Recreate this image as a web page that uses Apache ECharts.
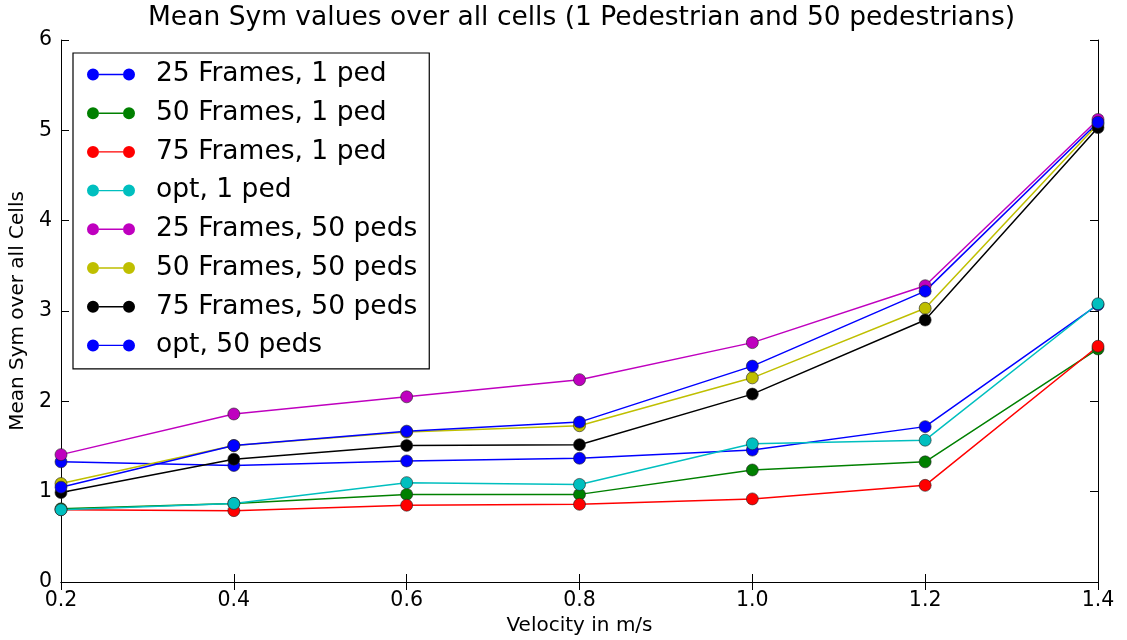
<!DOCTYPE html>
<html>
<head>
<meta charset="utf-8">
<script src="https://cdn.jsdelivr.net/npm/echarts@6/dist/echarts.min.js"></script>
<style>
  html, body { margin: 0; padding: 0; background: #fff; }
  #chartContainer { width: 1127px; height: 640px; }
</style>
</head>
<body>
<div id="chartContainer"></div>
<script>
// velocity in m/s
const velocities = ["0.2", "0.4", "0.6", "0.8", "1.0", "1.2", "1.4"];

// 1 pedestrian
const frames25Ped1 = [1.33, 1.29, 1.34, 1.37, 1.46, 1.72, 3.07];
const frames50Ped1 = [0.81, 0.87, 0.97, 0.97, 1.24, 1.33, 2.58];
const frames75Ped1 = [0.80, 0.79, 0.85, 0.86, 0.92, 1.07, 2.61];
const optPed1 = [0.80, 0.87, 1.10, 1.08, 1.53, 1.57, 3.08];

// 50 pedestrians
const frames25Ped50 = [1.41, 1.86, 2.05, 2.24, 2.65, 3.28, 5.12];
const frames50Ped50 = [1.09, 1.51, 1.66, 1.73, 2.26, 3.03, 5.07];
const frames75Ped50 = [0.99, 1.36, 1.51, 1.52, 2.08, 2.90, 5.03];
const optPed50 = [1.05, 1.51, 1.67, 1.77, 2.39, 3.22, 5.09];

const yTicks = [0, 1, 2, 3, 4, 5, 6];

const seriesDefs = [
  { name: "25 Frames, 1 ped", data: frames25Ped1, color: "#0000ff" },
  { name: "50 Frames, 1 ped", data: frames50Ped1, color: "#008000" },
  { name: "75 Frames, 1 ped", data: frames75Ped1, color: "#ff0000" },
  { name: "opt, 1 ped", data: optPed1, color: "#00bfbf" },
  { name: "25 Frames, 50 peds", data: frames25Ped50, color: "#bf00bf" },
  { name: "50 Frames, 50 peds", data: frames50Ped50, color: "#bfbf00" },
  { name: "75 Frames, 50 peds", data: frames75Ped50, color: "#000000" },
  { name: "opt, 50 peds", data: optPed50, color: "#0000ff" },
];

// legend icon: marker - line - marker
const legendIcon =
  "path://M0,6A6,6,0,1,1,12,6A6,6,0,1,1,0,6Z" +
  "M36,6A6,6,0,1,1,48,6A6,6,0,1,1,36,6Z" +
  "M12,5.3L36,5.3L36,6.7L12,6.7Z";

const font = "'DejaVu Sans', sans-serif";
const axisLine = { show: true, lineStyle: { color: "#000", width: 1 } };
const tickIn = { show: true, inside: true, length: 8, lineStyle: { color: "#000" } };

var chartContainer = document.getElementById("chartContainer");
var myChart = echarts.init(chartContainer);

var option = {
  animation: false,
  backgroundColor: "#fff",
  title: {
    text: "Mean Sym values over all cells (1 Pedestrian and 50 pedestrians)",
    left: 143,
    top: 0,
    textStyle: { fontFamily: font, fontSize: 26.5, fontWeight: "normal", color: "#000" },
  },
  grid: { left: 61, right: 29, top: 40, bottom: 58, outerBoundsMode: "none" },
  legend: {
    orient: "vertical",
    left: 73,
    top: 53,
    padding: [8, 12, 10, 14],
    itemGap: 11.7,
    itemWidth: 48,
    itemHeight: 12,
    icon: legendIcon,
    itemStyle: { borderWidth: 0 },
    borderColor: "#000",
    borderWidth: 1.2,
    borderRadius: 0,
    backgroundColor: "#fff",
    textStyle: { fontFamily: font, fontSize: 26.5, lineHeight: 26, color: "#000", padding: [0, 0, 0, 16] },
    data: seriesDefs.map((s) => s.name),
  },
  xAxis: [
    {
      type: "category",
      data: velocities,
      boundaryGap: false,
      name: "Velocity in m/s",
      nameLocation: "middle",
      nameGap: 33,
      nameTextStyle: { fontFamily: font, fontSize: 20, color: "#000" },
      axisLine: axisLine,
      axisTick: tickIn,
      axisLabel: { fontFamily: font, fontSize: 20.5, color: "#000", margin: 8 },
      splitLine: { show: false },
    },
    {
      type: "category",
      data: velocities,
      boundaryGap: false,
      position: "top",
      axisLine: axisLine,
      axisTick: tickIn,
      axisLabel: { show: false },
      splitLine: { show: false },
    },
  ],
  yAxis: [
    {
      type: "value",
      min: yTicks[0],
      max: yTicks[yTicks.length - 1],
      interval: 1,
      name: "Mean Sym over all Cells",
      nameLocation: "middle",
      nameGap: 33,
      nameTextStyle: { fontFamily: font, fontSize: 20, color: "#000" },
      axisLine: axisLine,
      axisTick: tickIn,
      axisLabel: { fontFamily: font, fontSize: 20.5, color: "#000", margin: 9 },
      splitLine: { show: false },
    },
    {
      type: "value",
      min: yTicks[0],
      max: yTicks[yTicks.length - 1],
      interval: 1,
      position: "right",
      axisLine: axisLine,
      axisTick: tickIn,
      axisLabel: { show: false },
      splitLine: { show: false },
    },
  ],
  series: seriesDefs.map((s) => ({
    name: s.name,
    type: "line",
    data: s.data,
    symbol: "circle",
    symbolSize: 12,
    color: s.color,
    lineStyle: { color: s.color, width: 1.5 },
    itemStyle: { color: s.color, borderColor: "#222", borderWidth: 0.6 },
    emphasis: { disabled: true },
    z: 2,
  })),
};

myChart.setOption(option);
</script>
</body>
</html>
